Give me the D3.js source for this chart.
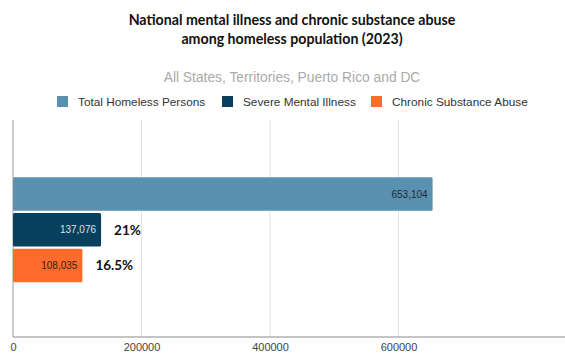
<!DOCTYPE html>
<meta charset="utf-8">
<style>
body { margin: 0; background: #fff; }
svg { display: block; }
</style>
<body>
<script src="https://cdn.jsdelivr.net/npm/d3@7"></script>
<script>

// data
var categories = ["Total Homeless Persons", "Severe Mental Illness", "Chronic Substance Abuse"];
var values = [653104, 137076, 108035];
var colors = ["#5a91b0", "#07405c", "#ff6b2c"];
var labelColors = ["#1e2a33", "#d8e2ea", "#3a2010"];
var shares = [null, "21%", "16.5%"];
var tickValues = [0, 200000, 400000, 600000];

var width = 565, height = 354;

var svg = d3.select("body").append("svg")
    .attr("width", width)
    .attr("height", height);

// scales
var x = d3.scaleLinear()
    .domain([0, 600000])
    .range([13, 398.5]);

var y = d3.scaleBand()
    .domain(categories)
    .range([176.5, 283])
    .paddingInner(0.06)
    .paddingOuter(0.02);

var plotTop = 120, plotBottom = 337;

// title
svg.append("text")
    .attr("x", 292).attr("y", 25)
    .attr("text-anchor", "middle")
    .style("font", "bold 14.2px Lato, sans-serif")
    .style("fill", "#111")
  .selectAll("tspan")
  .data(["National mental illness and chronic substance abuse", "among homeless population (2023)"])
  .enter().append("tspan")
    .attr("x", 292)
    .attr("dy", function(d, i) { return i ? 19 : 0; })
    .text(function(d) { return d; });

svg.append("text")
    .attr("x", 292).attr("y", 82)
    .attr("text-anchor", "middle")
    .style("font", "13.8px 'Liberation Sans', Arial, sans-serif")
    .style("fill", "#aaa")
    .text("All States, Territories, Puerto Rico and DC");

// legend
var legendX = [57, 222, 371];
var legend = svg.selectAll("g.legend")
    .data(categories)
  .enter().append("g")
    .attr("class", "legend")
    .attr("transform", function(d, i) { return "translate(" + legendX[i] + ",96)"; });

legend.append("rect")
    .attr("width", 11).attr("height", 11)
    .attr("fill", function(d, i) { return colors[i]; });

legend.append("text")
    .attr("x", 21).attr("y", 10)
    .style("font", "11.8px 'Liberation Sans', Arial, sans-serif")
    .style("fill", "#333")
    .text(function(d) { return d; });

// gridlines
svg.append("g")
  .selectAll("line")
  .data(tickValues.slice(1))
  .enter().append("line")
    .attr("x1", function(d) { return x(d); })
    .attr("x2", function(d) { return x(d); })
    .attr("y1", plotTop).attr("y2", plotBottom)
    .attr("stroke", "#e2e2e2")
    .attr("stroke-width", 1);

// x axis
var xAxis = svg.append("g")
    .attr("transform", "translate(0," + plotBottom + ")")
    .call(d3.axisBottom(x).tickValues(tickValues).tickFormat(d3.format("d")).tickSize(0).tickPadding(6));
xAxis.select(".domain").remove();
xAxis.selectAll("text")
    .style("font", "11px 'Liberation Sans', Arial, sans-serif")
    .style("fill", "#444");

svg.append("line")
    .attr("x1", x(0)).attr("x2", width)
    .attr("y1", plotBottom).attr("y2", plotBottom)
    .attr("stroke", "#8a8a8a");

svg.append("line")
    .attr("x1", x(0)).attr("x2", x(0))
    .attr("y1", plotTop).attr("y2", plotBottom)
    .attr("stroke", "#9a9a9a");

// bars
var bars = svg.append("g")
  .selectAll("g")
  .data(categories)
  .enter().append("g");

bars.append("rect")
    .attr("x", x(0))
    .attr("y", function(d) { return y(d); })
    .attr("width", function(d, i) { return x(values[i]) - x(0); })
    .attr("height", y.bandwidth())
    .attr("rx", 1.5)
    .attr("fill", function(d, i) { return colors[i]; });

bars.append("text")
    .attr("x", function(d, i) { return x(values[i]) - 5; })
    .attr("y", function(d) { return y(d) + y.bandwidth() / 2 + 3.5; })
    .attr("text-anchor", "end")
    .style("font", "10px 'Liberation Sans', Arial, sans-serif")
    .style("fill", function(d, i) { return labelColors[i]; })
    .text(function(d, i) { return d3.format(",")(values[i]); });

bars.filter(function(d, i) { return shares[i]; })
  .append("text")
    .attr("x", function(d, i) { return x(values[categories.indexOf(d)]) + 13; })
    .attr("y", function(d) { return y(d) + y.bandwidth() / 2 + 5; })
    .style("font", "bold 13.5px Lato, sans-serif")
    .style("fill", "#111")
    .text(function(d) { return shares[categories.indexOf(d)]; });

</script>
</body>
</html>
